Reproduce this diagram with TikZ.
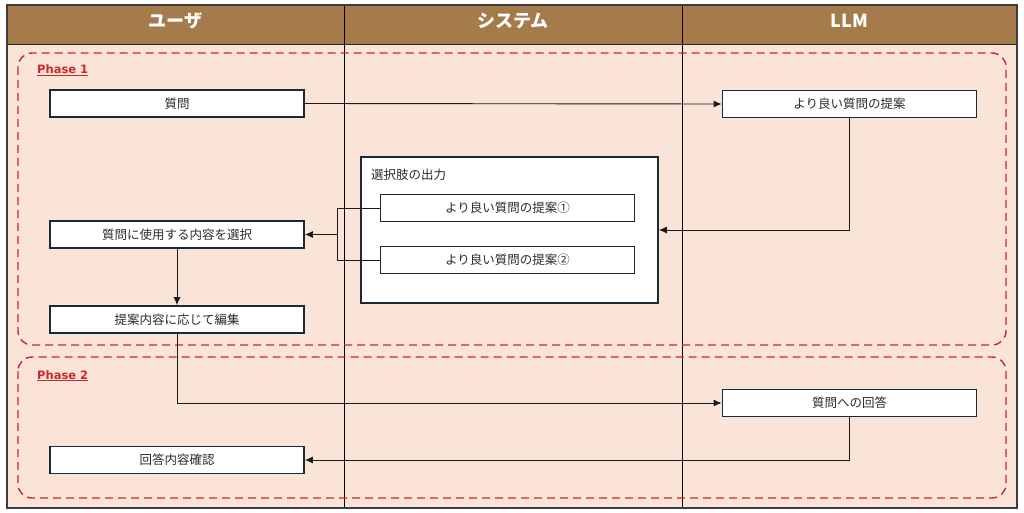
\documentclass[tikz,border=0pt]{standalone}
\usepackage{fontspec}
\setmainfont{Noto Sans CJK JP}
\newfontfamily\tagfont{DejaVu Sans}
\usepackage{xcolor}
\usetikzlibrary{arrows.meta}

\begin{document}
\begin{tikzpicture}[
  x=1pt, y=-1pt,
  pHead/.style={inner sep=0pt, text=white,
    font=\bfseries\fontsize{18}{18}\selectfont},
  pBox/.style={rectangle, minimum width=254pt, minimum height=27pt,
    inner sep=0pt, fill=white,
    draw={rgb,255:red,24;green,42;blue,54},
    line width=1.8pt, font=\fontsize{12.5}{13}\selectfont,
    text={rgb,255:red,45;green,45;blue,45}},
  pOuter/.style={pBox, minimum width=297pt, minimum height=146pt},
  pPhase/.style={draw={rgb,255:red,204;green,40;blue,40},
    line width=1.4pt, dash pattern=on 8pt off 5pt,
    rounded corners=14pt},
  pTag/.style={anchor=base west, inner sep=0pt,
    text={rgb,255:red,204;green,40;blue,40},
    font=\tagfont\bfseries\fontsize{11.5}{12}\selectfont},
  pLine/.style={line width=0.9pt,
    draw={rgb,255:red,25;green,25;blue,25}},
  parr/.style={pLine, -{Latex[length=8pt,width=7pt]}},
]
  \useasboundingbox (0,0) rectangle (1024,513);

  %% ── Lanes ───────────────────────────────────────────────────
  \fill[fill={rgb,255:red,250;green,227;blue,215}] (7,45) rectangle (1017,508);
  \fill[fill={rgb,255:red,166;green,123;blue,76}] (7,5) rectangle (1017,45);
  \draw[line width=1pt, draw={rgb,255:red,40;green,40;blue,40}]
    (7,45) -- (1017,45);
  \foreach \x in {344,682}
    \draw[line width=1pt, black] (\x,5) -- (\x,508);
  \draw[line width=1.2pt, draw={rgb,255:red,60;green,60;blue,60}]
    (7,5) rectangle (1017,508);

  \node[pHead] (hUser) at (175.5,21) {ユーザ};
  \node[pHead] (hSys)  at (513,21)   {システム};
  \node[pHead] (hLLM)  at (849.5,21) {LLM};

  %% ── Phases ──────────────────────────────────────────────────
  \draw[pPhase] (18,53) rectangle (1006,345);
  \draw[pPhase] (18,357) rectangle (1006,498);
  \node[pTag] (tag1) at (37,74)  {\underline{Phase 1}};
  \node[pTag] (tag2) at (37,379) {\underline{Phase 2}};

  %% ── Phase 1 nodes ───────────────────────────────────────────
  \node[pBox] (ask) at (177,103.5) {質問};
  \node[pBox] (sug) at (849.5,104) {より良い質問の提案};
  \node[pOuter] (opts) at (509.5,230) {};
  \node[anchor=west, inner sep=0pt, font=\fontsize{12.5}{13}\selectfont,
    text={rgb,255:red,45;green,45;blue,45}]
    (optsLbl) at (371,175) {選択肢の出力};
  \node[pBox] (opt1) at (507.5,208) {より良い質問の提案①};
  \node[pBox] (opt2) at (507.5,260) {より良い質問の提案②};
  \node[pBox] (sel)  at (177,234.5) {質問に使用する内容を選択};
  \node[pBox] (edit) at (177,319.5) {提案内容に応じて編集};

  %% ── Phase 2 nodes ───────────────────────────────────────────
  \node[pBox] (ans)   at (849.5,403) {質問への回答};
  \node[pBox] (check) at (177,460)   {回答内容確認};

  %% ── Arrows ──────────────────────────────────────────────────
  \coordinate (merge) at (337,234.5);
  \draw[parr] (ask.east) -- (sug.west);
  \draw[parr] (sug.south) |- (opts.east);
  \draw[pLine] (opt1.west) -| (merge);
  \draw[pLine] (opt2.west) -| (merge);
  \draw[parr] (merge) -- (sel.east);
  \draw[parr] (sel.south) -- (edit.north);
  \draw[parr] (edit.south) |- (ans.west);
  \draw[parr] (ans.south) |- (check.east);

\end{tikzpicture}
\end{document}
